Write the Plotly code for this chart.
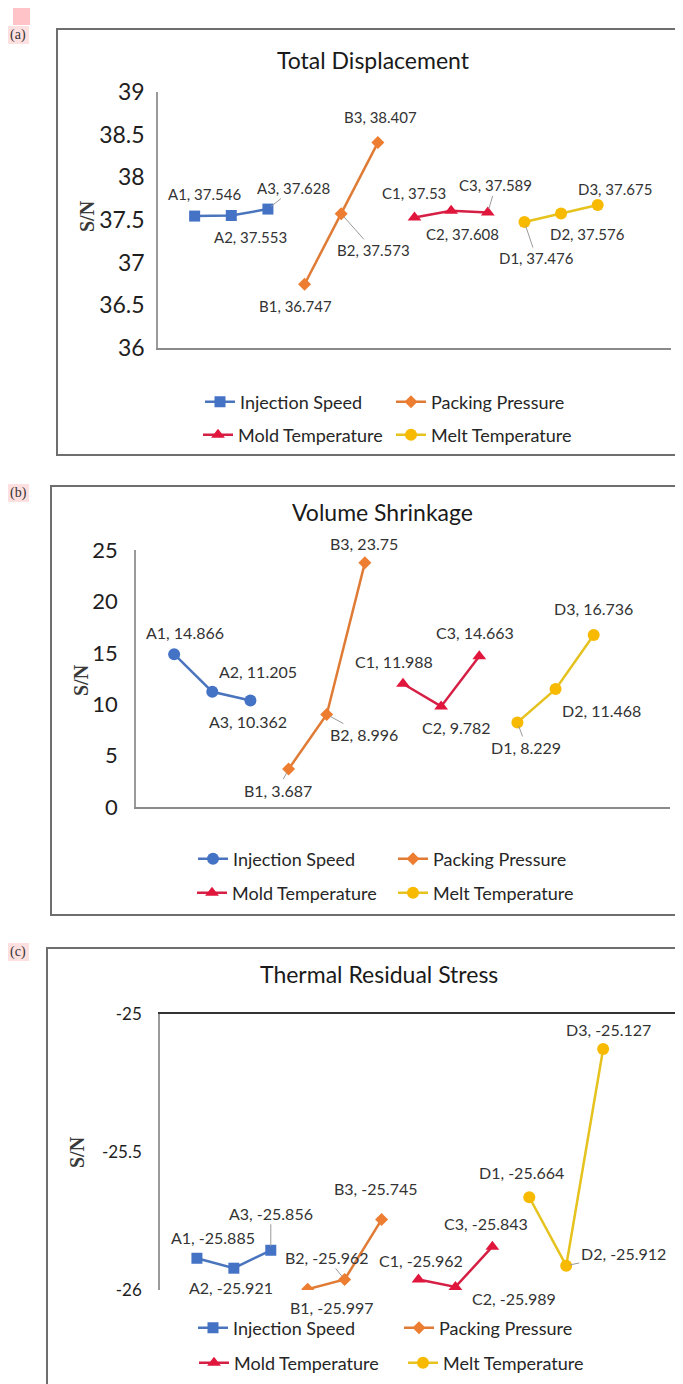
import plotly.graph_objects as go

W, H = 683, 1384
PAGE_OFFSET = 8  # body margin of the html page

# levels and factors
LEVELS = [
    ["A1", "A2", "A3"],
    ["B1", "B2", "B3"],
    ["C1", "C2", "C3"],
    ["D1", "D2", "D3"],
]
FACTORS = ["Injection Speed", "Packing Pressure", "Mold Temperature", "Melt Temperature"]

# (a) total displacement S/N
disp_injection = [37.546, 37.553, 37.628]
disp_packing = [36.747, 37.573, 38.407]
disp_mold = [37.53, 37.608, 37.589]
disp_melt = [37.476, 37.576, 37.675]

# (b) volume shrinkage S/N
shrink_injection = [14.866, 11.205, 10.362]
shrink_packing = [3.687, 8.996, 23.75]
shrink_mold = [11.988, 9.782, 14.663]
shrink_melt = [8.229, 11.468, 16.736]

# (c) thermal residual stress S/N
stress_injection = [-25.885, -25.921, -25.856]
stress_packing = [-25.997, -25.962, -25.745]
stress_mold = [-25.962, -25.989, -25.843]
stress_melt = [-25.664, -25.912, -25.127]

disp_ticks = [36, 36.5, 37, 37.5, 38, 38.5, 39]
shrink_ticks = [0, 5, 10, 15, 20, 25]
stress_ticks = [-26, -25.5, -25]
stress_tick_text = ["-26", "-25.5", "-25"]

COLORS = ["#4472C4", "#ED7D31", "#E0163C", "#F7BA00"]
LINE_COLORS = ["#4A74BE", "#E07B35", "#D61F45", "#E6C21E"]
FONT = "Lato"


def px_x(v):
    return (v - PAGE_OFFSET) / W


def px_y(v):
    return 1 - (v - PAGE_OFFSET) / H


panels = [
    dict(
        label="(a)", title="Total Displacement", title_pos=(373, 60),
        series=[disp_injection, disp_packing, disp_mold, disp_melt],
        symbols=["square", "diamond", "triangle-up", "circle"],
        sizes=[11, 10, 12, 12],
        ticks=disp_ticks, tick_text=[str(t) for t in disp_ticks], yrange=[36, 39],
        xdom=(158, 671), ydom=(92, 348), tick_font=23, standoff=7,
        label_font=15, sn_pos=(87, 216),
        box=(57, 29, 700, 455), tag_pos=(18, 35),
        offsets=[(10, -22), (19, 22), (26, -21), (-9, 22), (32, 36), (3, -26),
                 (-1, -24), (11, 23), (8, -27), (12, 36), (26, 20), (17, -16)],
        leaders=[0, 0, 1, 0, 1, 0, 0, 0, 1, 1, 0, 0],
        legend_pos=[(200, 402), (391, 402), (198, 435), (391, 435)],
        xside="bottom", xline="#8a8a8a",
    ),
    dict(
        label="(b)", title="Volume Shrinkage", title_pos=(382, 512),
        series=[shrink_injection, shrink_packing, shrink_mold, shrink_melt],
        symbols=["circle", "diamond", "triangle-up", "circle"],
        sizes=[12, 10, 12, 12],
        ticks=shrink_ticks, tick_text=[str(t) for t in shrink_ticks], yrange=[0, 25],
        xdom=(136, 670), ydom=(550, 807), tick_font=22, standoff=12,
        label_font=16, sn_pos=(81, 680),
        box=(51, 486, 700, 915), tag_pos=(18, 493),
        offsets=[(11, -22), (46, -20), (-2, 21), (-11, 21), (37, 20), (-1, -19),
                 (-9, -22), (15, 21), (-4, -24), (9, 25), (46, 21), (0, -26)],
        leaders=[0, 0, 0, 1, 1, 0, 0, 0, 0, 1, 0, 0],
        legend_pos=[(193, 859), (393, 859), (192, 893), (393, 893)],
        xside="bottom", xline="#8a8a8a",
    ),
    dict(
        label="(c)", title="Thermal Residual Stress", title_pos=(379, 974),
        series=[stress_injection, stress_packing, stress_mold, stress_melt],
        symbols=["square", "diamond", "triangle-up", "circle"],
        sizes=[11, 10, 12, 12],
        ticks=stress_ticks, tick_text=stress_tick_text, yrange=[-26, -25],
        xdom=(160, 677), ydom=(1014, 1290), tick_font=17, standoff=13,
        label_font=16, sn_pos=(77, 1152),
        box=(47, 948, 700, 1400), tag_pos=(18, 952),
        offsets=[(16, -21), (-3, 19), (0, -37), (24, 18), (-18, -22), (-6, -31),
                 (2, -19), (59, 12), (-6, -23), (-8, -25), (57, -12), (5, -20)],
        leaders=[0, 0, 1, 0, 1, 0, 0, 0, 0, 0, 1, 0],
        legend_pos=[(193, 1328), (399, 1328), (194, 1363), (403, 1363)],
        xside="top", xline="#333333",
    ),
]

all_levels = [name for group in LEVELS for name in group]

fig = go.Figure()
annotations = []
shapes = []
layout = {}
legend_no = 0

for p_idx, p in enumerate(panels):
    sfx = "" if p_idx == 0 else str(p_idx + 1)
    xref, yref = "x" + sfx, "y" + sfx

    for f_idx, (factor, values) in enumerate(zip(FACTORS, p["series"])):
        legend_no += 1
        legend_id = "legend" if legend_no == 1 else f"legend{legend_no}"
        fig.add_trace(go.Scatter(
            x=LEVELS[f_idx], y=values, name=factor,
            mode="lines+markers",
            line=dict(color=LINE_COLORS[f_idx], width=2.5),
            marker=dict(symbol=p["symbols"][f_idx], size=p["sizes"][f_idx],
                        color=COLORS[f_idx]),
            xaxis=xref, yaxis=yref, legend=legend_id,
            hoverinfo="skip",
        ))
        lx, ly = p["legend_pos"][f_idx]
        layout[legend_id] = dict(
            x=px_x(lx), y=px_y(ly), xanchor="left", yanchor="middle",
            bgcolor="rgba(0,0,0,0)", borderwidth=0,
            font=dict(family=FONT, size=18, color="#262626"),
        )

        # data labels
        for l_idx, (name, val) in enumerate(zip(LEVELS[f_idx], values)):
            k = f_idx * 3 + l_idx
            dx, dy = p["offsets"][k]
            annotations.append(dict(
                x=all_levels.index(name), y=val, xref=xref, yref=yref,
                text=f"{name}, {val}", showarrow=True, ax=dx, ay=dy,
                arrowhead=0, arrowwidth=1, standoff=4,
                arrowcolor="#9a9a9a" if p["leaders"][k] else "rgba(0,0,0,0)",
                font=dict(family=FONT, size=p["label_font"], color="#333333"),
            ))

    x0, x1 = p["xdom"]
    y0, y1 = p["ydom"]
    layout["xaxis" + sfx] = dict(
        domain=[px_x(x0), px_x(x1)], anchor=yref, automargin=False,
        type="category", categoryorder="array", categoryarray=all_levels,
        range=[-1, 13], showticklabels=False, ticks="", showgrid=False,
        zeroline=False, showline=True, linecolor=p["xline"], linewidth=2,
        side=p["xside"],
    )
    layout["yaxis" + sfx] = dict(
        domain=[px_y(y1), px_y(y0)], anchor=xref, range=p["yrange"],
        automargin=False,
        tickmode="array", tickvals=p["ticks"], ticktext=p["tick_text"],
        showgrid=False, zeroline=False, showline=True, linecolor="#9a9a9a",
        linewidth=1.5, ticks="", ticklabelstandoff=p["standoff"],
        tickfont=dict(family=FONT, size=p["tick_font"], color="#1e1e1e"),
    )

    # panel title and axis title
    tx, ty = p["title_pos"]
    annotations.append(dict(
        x=px_x(tx), y=px_y(ty), xref="paper", yref="paper", showarrow=False,
        xanchor="center", yanchor="middle",
        text=p["title"], font=dict(family=FONT, size=23, color="#1a1a1a"),
    ))
    sx, sy = p["sn_pos"]
    annotations.append(dict(
        x=px_x(sx), y=px_y(sy), xref="paper", yref="paper", showarrow=False,
        xanchor="center", yanchor="middle",
        text="<b>S/N</b>", textangle=-90,
        font=dict(family="Liberation Serif", size=20, color="#3a3a3a"),
    ))

    # panel frame
    bx0, by0, bx1, by1 = p["box"]
    shapes.append(dict(
        type="rect", xref="paper", yref="paper",
        x0=px_x(bx0), x1=px_x(bx1), y0=px_y(by1), y1=px_y(by0),
        line=dict(color="#6e6e6e", width=2),
    ))

    # panel tag with pink highlight
    gx, gy = p["tag_pos"]
    shapes.append(dict(
        type="rect", xref="paper", yref="paper",
        x0=px_x(gx - 10), x1=px_x(gx + 11), y0=px_y(gy + 9), y1=px_y(gy - 9),
        fillcolor="#FFE0E0", line=dict(width=0), layer="below",
    ))
    annotations.append(dict(
        x=px_x(gx), y=px_y(gy), xref="paper", yref="paper", showarrow=False,
        xanchor="center", yanchor="middle",
        text=p["label"], font=dict(family="Liberation Serif", size=14, color="#333333"),
    ))

# small pink marker at top left corner
shapes.append(dict(
    type="rect", xref="paper", yref="paper",
    x0=px_x(13), x1=px_x(30), y0=px_y(25), y1=px_y(2),
    fillcolor="#FFC3C8", line=dict(width=0), layer="below",
))

fig.update_layout(
    width=W, height=H,
    margin=dict(l=0, r=0, t=0, b=0, pad=0, autoexpand=False),
    paper_bgcolor="white", plot_bgcolor="white",
    annotations=annotations, shapes=shapes,
    showlegend=True,
    **layout,
)

fig.write_html("out.html")
